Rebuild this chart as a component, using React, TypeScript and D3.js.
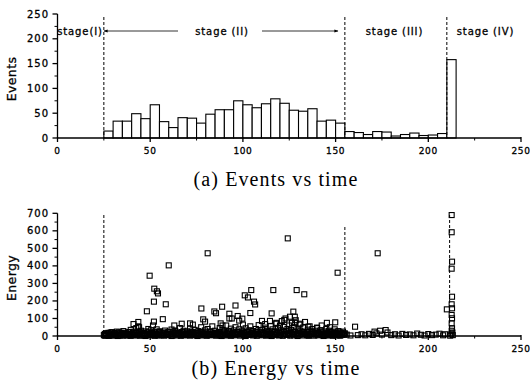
import React from "react";
import * as d3 from "d3";

// ---------- data: (a) events histogram ----------
const binStarts = [25, 30, 35, 40, 45, 50, 55, 60, 65, 70, 75, 80, 85, 90, 95, 100, 105, 110, 115, 120, 125, 130, 135, 140, 145, 150, 155, 160, 165, 170, 175, 180, 185, 190, 195, 200, 205, 210];
const eventCounts = [14, 34, 34, 49, 39, 67, 33, 21, 41, 40, 30, 48, 57, 57, 75, 67, 61, 69, 79, 70, 56, 54, 59, 34, 36, 30, 13, 11, 7, 13, 12, 4, 7, 10, 5, 6, 9, 158];
const binWidth = 5;

const xTicks = [0, 50, 100, 150, 200, 250];
const xMinorTicks = [25, 75, 125, 175, 225];
const eventTicks = [0, 50, 100, 150, 200, 250];
const eventMinorTicks = [25, 75, 125, 175, 225];
const energyTicks = [0, 100, 200, 300, 400, 500, 600, 700];
const energyMinorTicks = [50, 150, 250, 350, 450, 550, 650];

const stageBoundsTop = [25, 155, 210];
const stageBoundsBottom = [25, 155, 211.5];
const stageLabels = ["stage(I)", "stage (II)", "stage (III)", "stage (IV)"];
const stageLabelX = [80, 222, 394.5, 485.5];

// ---------- data: (b) energy scatter ----------
const outlierPoints: [number, number][] = [
  [49.7, 344], [60, 403], [81, 472], [52.2, 270], [53.6, 255], [54.2, 243], [52, 196], [58.4, 181],
  [48.2, 141], [56.8, 96], [52, 82], [43.6, 80], [41, 68], [77.6, 157], [84.6, 140], [88.8, 167],
  [78.6, 95], [79.6, 82], [85.5, 130], [96, 174], [92.7, 127], [92.7, 100], [97.2, 114], [99.7, 99],
  [101, 232], [104.5, 262], [102.7, 220], [106, 196], [106.6, 180], [104, 131], [110.3, 86],
  [71.5, 72], [67, 70], [44, 50], [63, 60], [73, 65], [88, 72], [94, 100], [98, 88], [89, 60],
  [124.2, 557], [116.4, 262], [129, 262], [133.1, 238], [115.5, 129], [127.2, 139], [151.1, 361],
  [172.7, 472], [114.6, 86], [125.4, 110], [122.3, 92], [128, 110], [118, 75], [128.2, 75],
  [135.3, 53], [145.3, 75], [149.8, 78], [160.5, 53], [120, 60], [112, 68], [131, 70], [140, 48],
];

const clusterPoints: [number, number][] = [
  [25, 5], [25.5, 12], [26, 3], [27, 8], [27.5, 18], [28, 2], [29, 10], [29.5, 22], [30, 4], [31, 15],
  [31.5, 6], [32, 25], [33, 9], [33.5, 3], [34, 18], [35, 11], [35.5, 28], [36, 5], [37, 14], [37.5, 7],
  [38, 20], [39, 3], [39.5, 35], [40, 12], [40.5, 8], [41, 24], [42, 5], [42.5, 45], [43, 16], [43.5, 55],
  [44, 9], [45, 30], [45.5, 4], [46, 19], [47, 11], [47.5, 26], [48, 6], [49, 40], [49.5, 14], [50, 8],
  [50.5, 33], [51, 18], [51.5, 60], [52, 5], [52.5, 22], [53, 12], [53.5, 38], [54, 7], [55, 27], [55.5, 15],
  [56, 4], [57, 20], [57.5, 9], [58, 31], [59, 13], [59.5, 6], [60, 24], [61, 10], [61.5, 37], [62, 3],
  [63, 17], [63.5, 28], [64, 8], [65, 21], [65.5, 12], [66, 45], [67, 6], [67.5, 19], [68, 30], [69, 11],
  [69.5, 5], [70, 26], [71, 15], [71.5, 42], [72, 8], [73, 22], [73.5, 13], [74, 35], [75, 4], [75.5, 18],
  [76, 28], [77, 10], [77.5, 50], [78, 16], [79, 7], [79.5, 32], [80, 20], [80.5, 12], [81, 40], [82, 6],
  [82.5, 25], [83, 14], [83.5, 55], [84, 9], [85, 30], [85.5, 18], [86, 4], [87, 22], [87.5, 45], [88, 11],
  [89, 35], [89.5, 7], [90, 26], [90.5, 16], [91, 60], [92, 9], [92.5, 28], [93, 19], [93.5, 42], [94, 5],
  [95, 32], [95.5, 14], [96, 50], [97, 21], [97.5, 8], [98, 38], [99, 12], [99.5, 27], [100, 65], [100.5, 17],
  [101, 6], [101.5, 44], [102, 23], [103, 10], [103.5, 33], [104, 55], [105, 15], [105.5, 28], [106, 7], [107, 40],
  [107.5, 20], [108, 12], [108.5, 62], [109, 25], [110, 8], [110.5, 35], [111, 18], [112, 48], [112.5, 11], [113, 30],
  [113.5, 5], [114, 22], [115, 56], [115.5, 14], [116, 38], [117, 9], [117.5, 27], [118, 70], [118.5, 16], [119, 45],
  [120, 6], [120.5, 32], [121, 85], [121.5, 20], [122, 52], [122.5, 11], [123, 100], [123.5, 28], [124, 40], [124.5, 8],
  [125, 60], [125.5, 18], [126, 35], [126.5, 75], [127, 12], [127.5, 50], [128, 25], [128.5, 90], [129, 7], [129.5, 42],
  [130, 19], [130.5, 65], [131, 30], [132, 10], [132.5, 48], [133, 22], [133.5, 80], [134, 14], [135, 36], [135.5, 6],
  [136, 55], [136.5, 24], [137, 12], [137.5, 40], [138, 18], [139, 30], [139.5, 8], [140, 45], [140.5, 20], [141, 11],
  [142, 33], [142.5, 60], [143, 15], [144, 26], [144.5, 5], [145, 40], [145.5, 18], [146, 9], [146.5, 30], [147, 50],
  [148, 13], [148.5, 25], [149, 6], [149.5, 38], [150, 20], [151, 10], [151.5, 28], [152, 4], [153, 18], [153.5, 12],
  [154, 25], [154.5, 8], [155, 15],
];

const basePoints: [number, number][] = [
  [25.5, 2], [26.5, 6], [27.5, 1], [28.5, 9], [29.5, 3], [30.5, 12], [31.5, 5], [32.5, 0], [33.5, 7], [34.5, 14],
  [35.5, 2], [36.5, 8], [37.5, 4], [38.5, 11], [39.5, 1], [40.5, 6], [41.5, 15], [42.5, 3], [43.5, 9], [44.5, 2],
  [45.5, 13], [46.5, 5], [47.5, 0], [48.5, 10], [49.5, 4], [50.5, 7], [51.5, 12], [52.5, 1], [53.5, 8], [54.5, 3],
  [55.5, 14], [56.5, 6], [57.5, 2], [58.5, 9], [59.5, 5], [60.5, 11], [61.5, 0], [62.5, 7], [63.5, 13], [64.5, 3],
  [65.5, 8], [66.5, 1], [67.5, 12], [68.5, 4], [69.5, 10], [70.5, 6], [71.5, 2], [72.5, 15], [73.5, 5], [74.5, 9],
  [75.5, 0], [76.5, 7], [77.5, 3], [78.5, 12], [79.5, 6], [80.5, 1], [81.5, 10], [82.5, 4], [83.5, 14], [84.5, 8],
  [85.5, 2], [86.5, 11], [87.5, 5], [88.5, 0], [89.5, 9], [90.5, 3], [91.5, 13], [92.5, 7], [93.5, 1], [94.5, 12],
  [95.5, 4], [96.5, 8], [97.5, 15], [98.5, 2], [99.5, 10], [100.5, 5], [101.5, 0], [102.5, 9], [103.5, 6], [104.5, 13],
  [105.5, 3], [106.5, 11], [107.5, 1], [108.5, 7], [109.5, 14], [110.5, 4], [111.5, 9], [112.5, 2], [113.5, 12], [114.5, 6],
  [115.5, 0], [116.5, 10], [117.5, 5], [118.5, 15], [119.5, 3], [120.5, 8], [121.5, 1], [122.5, 11], [123.5, 6], [124.5, 13],
  [125.5, 2], [126.5, 9], [127.5, 4], [128.5, 12], [129.5, 0], [130.5, 7], [131.5, 14], [132.5, 3], [133.5, 10], [134.5, 5],
  [135.5, 1], [136.5, 8], [137.5, 12], [138.5, 2], [139.5, 9], [140.5, 4], [141.5, 13], [142.5, 6], [143.5, 0], [144.5, 10],
  [145.5, 3], [146.5, 7], [147.5, 11], [148.5, 1], [149.5, 8], [150.5, 4], [151.5, 12], [152.5, 2], [153.5, 6], [154.5, 9],
];

const lowPoints: [number, number][] = [
  [26.2, 16], [28.7, 20], [30.8, 17], [33.2, 21], [36.2, 18], [38.8, 23], [41.2, 19], [44.2, 22], [46.8, 17], [49.2, 24],
  [52.2, 19], [54.8, 23], [57.2, 18], [59.8, 21], [62.2, 24], [64.8, 17], [67.2, 22], [69.8, 19], [72.2, 25], [74.8, 18],
  [77.2, 22], [79.8, 20], [82.2, 24], [84.8, 17], [87.2, 23], [89.8, 21], [92.2, 25], [94.8, 19], [97.2, 23], [99.8, 20],
  [102.2, 26], [104.8, 18], [107.2, 24], [109.8, 21], [112.2, 25], [114.8, 19], [117.2, 23], [119.8, 22], [122.2, 26], [124.8, 20],
  [127.2, 24], [129.8, 19], [132.2, 25], [134.8, 21], [137.2, 23], [139.8, 18], [142.2, 24], [144.8, 20], [147.2, 22], [149.8, 17],
  [152.2, 21], [154.2, 16],
];

const stage3Points: [number, number][] = [
  [156, 8], [158, 3], [162, 5], [164, 10], [166, 4], [168, 12], [170, 6], [171, 25], [172, 15], [174, 30],
  [175, 8], [177, 34], [178, 20], [180, 5], [182, 10], [184, 3], [186, 12], [188, 6], [190, 9], [192, 4],
  [194, 14], [196, 7], [198, 3], [200, 11], [202, 5], [204, 8], [206, 13], [208, 4], [209, 10],
];

const stage4Points: [number, number][] = [
  [212.6, 690], [212.6, 592], [212.8, 424], [212.6, 384], [212.8, 224], [212.6, 181], [212.8, 158], [210, 152],
  [212.6, 120], [212.8, 101], [212.6, 72], [212.8, 44], [212.6, 30], [213, 20], [212.4, 10], [213.2, 5], [211.8, 2],
];

// ---------- layout ----------
const W = 530;
const H = 388;
const X0 = 57.5;
const X1 = 521;

export default function App() {
  const x = d3.scaleLinear().domain([0, 250]).range([X0, X1]);
  const yTop = d3.scaleLinear().domain([0, 250]).range([138, 14]);
  const yBot = d3.scaleLinear().domain([0, 700]).range([336, 213.3]);

  const tickFont = "DejaVu Sans, Arial, sans-serif";
  const allScatter = [...basePoints, ...lowPoints, ...clusterPoints, ...stage3Points, ...outlierPoints, ...stage4Points];
  const sq = 5;
  const textStroke = { stroke: "#000", strokeWidth: 0.3 };

  const xAxis = (y0: number, keyp: string) => (
    <g key={keyp}>
      <line x1={X0} x2={X1} y1={y0} y2={y0} stroke="#000" strokeWidth={1.3} />
      {xTicks.map((t) => (
        <g key={"mx" + t}>
          <line x1={x(t)} x2={x(t)} y1={y0 - 1} y2={y0 + 4} stroke="#000" strokeWidth={1.3} />
          <text x={x(t)} y={y0 + 15.5} fontSize={9} fontFamily={tickFont} textAnchor="middle" letterSpacing={0.6} {...textStroke}>
            {t}
          </text>
        </g>
      ))}
      {xMinorTicks.map((t) => (
        <line key={"nx" + t} x1={x(t)} x2={x(t)} y1={y0} y2={y0 + 2.5} stroke="#000" strokeWidth={1} />
      ))}
    </g>
  );

  const yAxis = (
    sc: d3.ScaleLinear<number, number>,
    major: number[],
    minor: number[],
    keyp: string
  ) => (
    <g key={keyp}>
      <line x1={X0} x2={X0} y1={sc(sc.domain()[0])} y2={sc(sc.domain()[1])} stroke="#000" strokeWidth={1.3} />
      {major.map((t) => (
        <g key={"my" + t}>
          <line x1={X0 - 5} x2={X0} y1={sc(t)} y2={sc(t)} stroke="#000" strokeWidth={1.3} />
          <text x={49} y={sc(t) + 3.5} fontSize={10} fontFamily={tickFont} textAnchor="end" letterSpacing={1} {...textStroke}>
            {t}
          </text>
        </g>
      ))}
      {minor.map((t) => (
        <line key={"ny" + t} x1={X0 - 3} x2={X0} y1={sc(t)} y2={sc(t)} stroke="#000" strokeWidth={1} />
      ))}
    </g>
  );

  return (
    <svg width={W} height={H} viewBox={`0 0 ${W} ${H}`} style={{ position: "absolute", left: 0, top: 0, background: "#fff" }}>
      <defs>
        <marker id="ah" viewBox="0 0 10 10" refX={9} refY={5} markerWidth={6} markerHeight={5} orient="auto-start-reverse">
          <path d="M0,1 L10,5 L0,9 z" fill="#000" />
        </marker>
      </defs>
      <rect x={0} y={0} width={W} height={H} fill="#fff" />

      {/* (a) histogram */}
      {binStarts.map((b, i) => (
        <rect
          key={"bar" + b}
          x={x(b)}
          y={yTop(eventCounts[i])}
          width={x(b + binWidth) - x(b)}
          height={yTop(0) - yTop(eventCounts[i])}
          fill="#fff"
          stroke="#000"
          strokeWidth={1.1}
        />
      ))}
      {stageBoundsTop.map((s) => (
        <line key={"st" + s} x1={x(s)} x2={x(s)} y1={17} y2={yTop(0)} stroke="#000" strokeWidth={1} strokeDasharray="3,2" />
      ))}
      {xAxis(yTop(0), "xa")}
      {yAxis(yTop, eventTicks, eventMinorTicks, "ya")}
      <text transform={`translate(16,79) rotate(-90)`} fontSize={12.5} fontFamily={tickFont} textAnchor="middle" letterSpacing={0.4} {...textStroke}>
        Events
      </text>
      {stageLabels.map((s, i) => (
        <text key={s} x={stageLabelX[i]} y={34.5} fontSize={10} fontFamily={tickFont} textAnchor="middle" letterSpacing={0.9} {...textStroke}>
          {s}
        </text>
      ))}
      <line x1={178} x2={104} y1={31} y2={31} stroke="#000" strokeWidth={0.8} markerEnd="url(#ah)" />
      <line x1={262} x2={338} y1={31} y2={31} stroke="#000" strokeWidth={0.8} markerEnd="url(#ah)" />
      <text x={276} y={186} fontSize={20} fontFamily="Liberation Serif, Times New Roman, serif" textAnchor="middle" letterSpacing={1.1}>
        (a) Events vs time
      </text>

      {/* (b) scatter */}
      {stageBoundsBottom.map((s, i) => (
        <line
          key={"sb" + s}
          x1={x(s)}
          x2={x(s)}
          y1={i === 1 ? 227 : 215}
          y2={yBot(0)}
          stroke="#000"
          strokeWidth={1}
          strokeDasharray="3,2"
        />
      ))}
      {allScatter.map(([t, e], i) => (
        <rect
          key={"p" + i}
          x={x(t) - sq / 2}
          y={yBot(e) - sq / 2}
          width={sq}
          height={sq}
          fill="none"
          stroke="#000"
          strokeWidth={1.1}
        />
      ))}
      {xAxis(yBot(0), "xb")}
      {yAxis(yBot, energyTicks, energyMinorTicks, "yb")}
      <text transform={`translate(16,278) rotate(-90)`} fontSize={12.5} fontFamily={tickFont} textAnchor="middle" letterSpacing={0.4} {...textStroke}>
        Energy
      </text>
      <text x={276} y={375} fontSize={20} fontFamily="Liberation Serif, Times New Roman, serif" textAnchor="middle" letterSpacing={1.1}>
        (b) Energy vs time
      </text>
    </svg>
  );
}
